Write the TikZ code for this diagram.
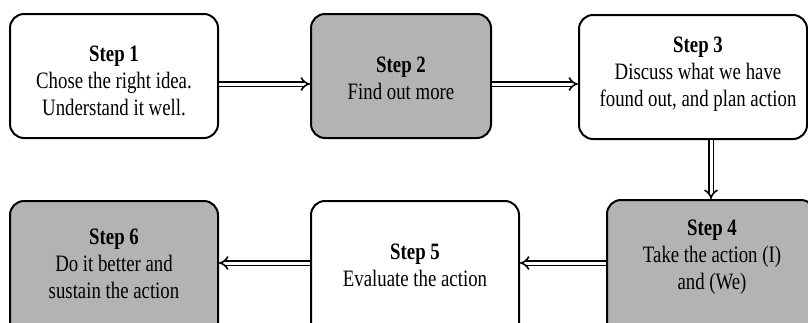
\documentclass[tikz,border=0pt]{standalone}
\usepackage{fontspec}
\setmainfont{Liberation Serif}[FakeStretch=0.8]
\usetikzlibrary{arrows.meta}
\definecolor{boxgray}{RGB}{179,179,179}
\tikzset{
  stepbox/.style={draw=black, line width=2pt, rounded corners=14pt, fill=white,
    inner sep=0pt},
  graybox/.style={stepbox, fill=boxgray},
  steptext/.style={align=center, inner sep=0pt, font=\fontsize{23.5}{27}\selectfont},
  flow/.style={double=white, double distance=3pt, line width=1.6pt,
    -{Implies[scale width=1.35]}},
}
\begin{document}
\begin{tikzpicture}[x=1pt, y=-1pt]
  \useasboundingbox (0,0) rectangle (808,322);
  \clip (0,0) rectangle (808,322);
  % top row
  \node[stepbox, minimum width=208pt, minimum height=124pt] (s1) at (114,76) {};
  \node[steptext] (t1) at (114,81)
    {\textbf{Step 1}\\Chose the right idea.\\Understand it well.};
  \node[graybox, minimum width=180pt, minimum height=124pt] (s2) at (401,76) {};
  \node[steptext] (t2) at (401,78) {\textbf{Step 2}\\Find out more};
  \node[stepbox, minimum width=228pt, minimum height=124pt] (s3) at (693,77) {};
  \node[steptext] (t3) at (698,74)
    {\textbf{Step 3}\\Discuss what we have\\found out, and plan action};
  % bottom row, running past the lower edge
  \node[graybox, minimum width=208pt, minimum height=160pt] (s4) at (711,280) {};
  \node[steptext] (t4) at (712,257)
    {\textbf{Step 4}\\Take the action (I)\\and (We)};
  \node[stepbox, minimum width=208pt, minimum height=160pt] (s5) at (415,281) {};
  \node[steptext] (t5) at (415,265) {\textbf{Step 5}\\Evaluate the action};
  \node[graybox, minimum width=208pt, minimum height=160pt] (s6) at (114,281) {};
  \node[steptext] (t6) at (114,264)
    {\textbf{Step 6}\\Do it better and\\sustain the action};
  % connectors
  \draw[flow] (s1.east |- 0,84) -- (s2.west |- 0,84);
  \draw[flow] (s2.east |- 0,84) -- (s3.west |- 0,84);
  \draw[flow] (s4.north |- s3.south) -- (s4.north);
  \draw[flow] (s4.west |- 0,263) -- (s5.east |- 0,263);
  \draw[flow] (s5.west |- 0,263) -- (s6.east |- 0,263);
\end{tikzpicture}
\end{document}
